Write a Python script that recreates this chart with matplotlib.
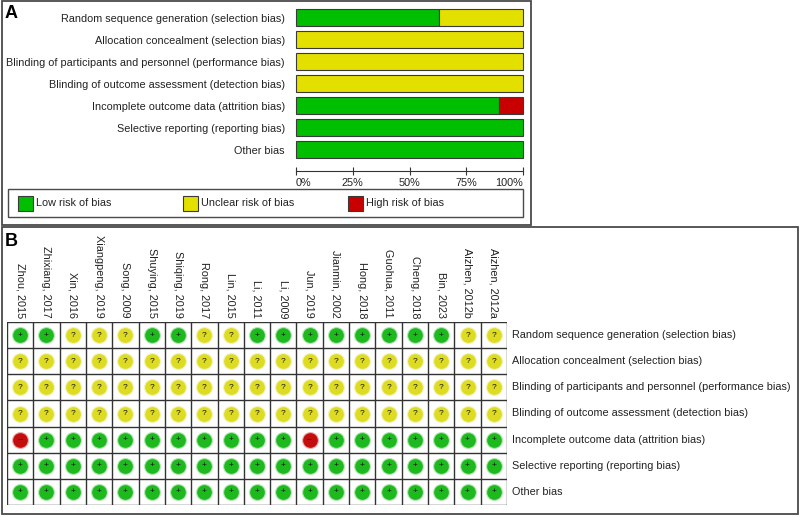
import matplotlib
matplotlib.use("Agg")
import matplotlib.pyplot as plt
from matplotlib.patches import Rectangle

plt.rcParams['font.family'] = ['Liberation Sans', 'DejaVu Sans']

domains = [
    "Random sequence generation (selection bias)",
    "Allocation concealment (selection bias)",
    "Blinding of participants and personnel (performance bias)",
    "Blinding of outcome assessment (detection bias)",
    "Incomplete outcome data (attrition bias)",
    "Selective reporting (reporting bias)",
    "Other bias",
]
studies = ["Zhou, 2015", "Zhixiang, 2017", "Xin, 2016", "Xiangpeng, 2019", "Song, 2009",
           "Shuying, 2015", "Shiqing, 2019", "Rong, 2017", "Lin, 2015", "Li, 2011",
           "Li, 2009", "Jun, 2019", "Jianmin, 2002", "Hong, 2018", "Guohua, 2011",
           "Cheng, 2018", "Bin, 2023", "Aizhen, 2012b", "Aizhen, 2012a"]
# judgements per domain (one char per study, same order as studies)
judgements = [
    "++???++??++++++++??",
    "???????????????????",
    "???????????????????",
    "???????????????????",
    "-++++++++++-+++++++",
    "+++++++++++++++++++",
    "+++++++++++++++++++",
]
legend_labels = ["Low risk of bias", "Unclear risk of bias", "High risk of bias"]
xticks = [0, 25, 50, 75, 100]
xtick_labels = ["0%", "25%", "50%", "75%", "100%"]

bar_col = {'+': '#00BE00', '?': '#E3E000', '-': '#C80000'}
dot_col = {'+': '#1EB91E', '?': '#DEDC22', '-': '#C40E0E'}
sym = {'+': '+', '?': '?', '-': '–'}

W, H = 800, 517
fig = plt.figure(figsize=(W / 100, H / 100), dpi=100)
fig.patch.set_facecolor('white')

def pax(x0, y0, x1, y1):
    return fig.add_axes([x0 / W, 1 - y1 / H, (x1 - x0) / W, (y1 - y0) / H])

# overlay axes in pixel coordinates
ov = fig.add_axes([0, 0, 1, 1], zorder=-1)
ov.set_xlim(0, W); ov.set_ylim(H, 0); ov.axis('off')

FS = 7.85
# panel frames
for (x0, y0, x1, y1) in [(2, 1, 531, 225), (2, 227, 798, 514)]:
    ov.add_patch(Rectangle((x0, y0), x1 - x0, y1 - y0, fill=False, ec='#4a4a4a', lw=1.3))
ov.text(5, 14, "A", fontsize=13, fontweight='bold', va='center', ha='left')
ov.text(5, 241, "B", fontsize=13, fontweight='bold', va='center', ha='left')

# ---------- Panel A ----------
n = len(studies)
axA = pax(296, 6.5, 523, 161)
for i, row in enumerate(judgements):
    left = 0
    for k in ['+', '?', '-']:
        v = 100 * row.count(k) / n
        if v > 0:
            axA.barh(i, v, left=left, height=0.77, color=bar_col[k], edgecolor='#3a3a3a',
                     linewidth=0.8, clip_on=False)
        left += v
axA.set_xlim(0, 100)
axA.set_ylim(len(domains) - 0.5, -0.5)
axA.set_yticks(range(len(domains)))
axA.set_yticklabels(domains, fontsize=FS, color='#222222')
axA.tick_params(axis='y', length=0, pad=8)
for s in ['top', 'right', 'left']:
    axA.spines[s].set_visible(False)
axA.spines['bottom'].set_position(('outward', 7))
axA.spines['bottom'].set_color('#333333')
axA.set_xticks(xticks)
axA.set_xticklabels(xtick_labels, fontsize=FS, color='#222222')
axA.tick_params(axis='x', direction='inout', length=6, width=0.8, color='#333333', pad=2)
tl = axA.get_xticklabels()
tl[0].set_ha('left'); tl[-1].set_ha('right')
axA.patch.set_alpha(0)

# legend box
ov.add_patch(Rectangle((8, 189), 515, 28, fill=False, ec='#4a4a4a', lw=1.0))
for (x, key, lab) in [(18, '+', legend_labels[0]), (183, '?', legend_labels[1]), (348, '-', legend_labels[2])]:
    ov.add_patch(Rectangle((x, 196), 15, 15, fc=bar_col[key], ec='#3a3a3a', lw=0.8))
    ov.text(x + 18, 203.5, lab, fontsize=FS, va='center', ha='left', color='#222222')

# ---------- Panel B ----------
gx0, gx1, gy0, gy1 = 7, 507, 322, 505
axB = pax(gx0, gy0, gx1, gy1)
axB.set_xlim(0, n)
axB.set_ylim(len(domains), 0)
axB.axis('off')
for j in range(n + 1):
    axB.axvline(j, color='#333333', lw=1.0)
for i in range(len(domains) + 1):
    axB.axhline(i, color='#333333', lw=1.0)
for i, row in enumerate(judgements):
    for j, k in enumerate(row):
        axB.scatter(j + 0.5, i + 0.5, s=150, color=dot_col[k], alpha=0.35, linewidths=0, zorder=3)
        axB.scatter(j + 0.5, i + 0.5, s=112, color=dot_col[k], linewidths=0, zorder=4)
        axB.text(j + 0.5, i + 0.5, sym[k], fontsize=6, ha='center', va='center',
                 color='#111111', zorder=5)
for i, d in enumerate(domains):
    axB.text(n + 0.2, i + 0.5, d, fontsize=FS, ha='left', va='center', color='#222222', clip_on=False)

colw = (gx1 - gx0) / n
for j, s in enumerate(studies):
    ov.text(gx0 + colw * (j + 0.5), 318, s, rotation=270, fontsize=FS, ha='center', va='bottom',
            color='#222222')

fig.savefig("out.png", dpi=100, facecolor='white')
